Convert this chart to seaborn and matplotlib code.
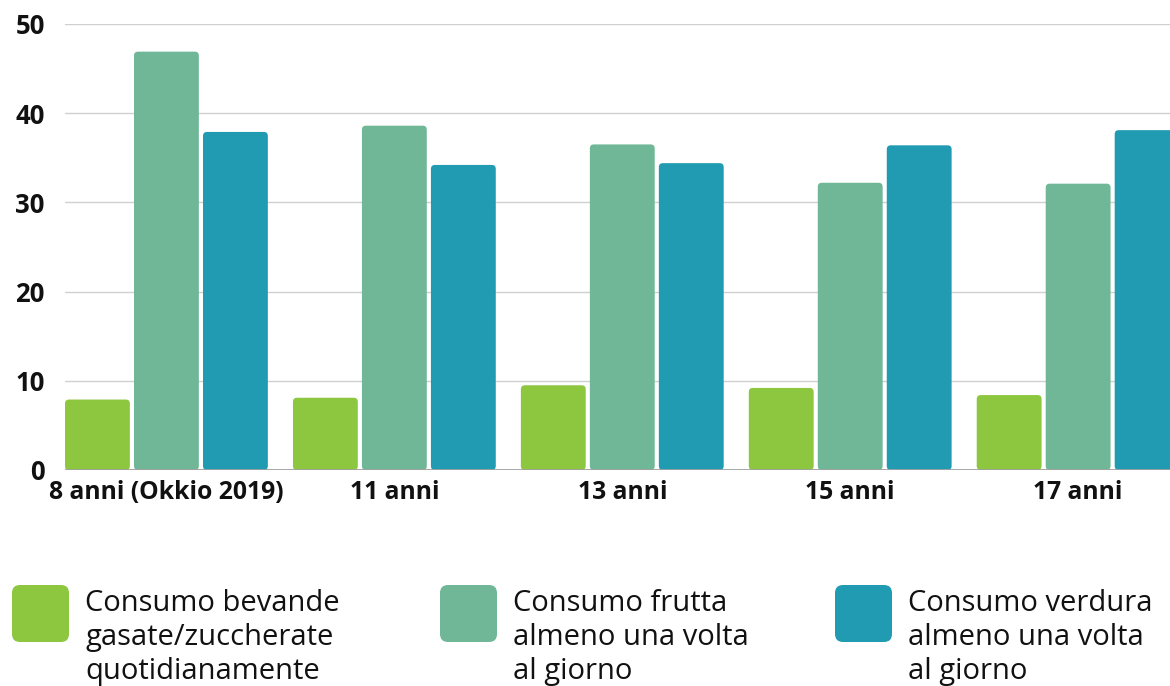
import matplotlib
matplotlib.use("Agg")
import matplotlib.pyplot as plt
import pandas as pd
import seaborn as sns
from matplotlib.patches import FancyBboxPatch

# dati (percentuali)
eta = ["8 anni (Okkio 2019)", "11 anni", "13 anni", "15 anni", "17 anni"]
serie = [
    "Consumo bevande\ngasate/zuccherate\nquotidianamente",
    "Consumo frutta\nalmeno una volta\nal giorno",
    "Consumo verdura\nalmeno una volta\nal giorno",
]
bevande = [7.9, 8.1, 9.5, 9.2, 8.4]
frutta = [46.9, 38.6, 36.5, 32.2, 32.1]
verdura = [37.9, 34.2, 34.4, 36.4, 38.1]
colori = ["#8DC63F", "#6FB797", "#209BB1"]
y_ticks = [0, 10, 20, 30, 40, 50]

df = pd.DataFrame({
    "eta": eta * 3,
    "serie": [serie[0]] * 5 + [serie[1]] * 5 + [serie[2]] * 5,
    "valore": bevande + frutta + verdura,
})

sns.set_theme(style="white")
plt.rcParams["font.family"] = ["Open Sans", "DejaVu Sans"]

W, H = 1170, 686
fig = plt.figure(figsize=(W / 100, H / 100), dpi=100)
ax = fig.add_axes([65 / W, 1 - 470 / H, 1 - 65 / W, (470 - 24) / H])

sns.barplot(data=df, x="eta", y="valore", hue="serie", hue_order=serie,
            palette=colori, width=0.908, gap=0.06, ax=ax, legend=False,
            saturation=1)

ax.set_xlim(-0.445, 4.403)
ax.set_ylim(0, 50)
ax.set_yticks(y_ticks)
ax.set_xlabel("")
ax.set_ylabel("")
for s in ax.spines.values():
    s.set_visible(False)
ax.yaxis.grid(True, color="#d0d0d0", linewidth=1)
ax.set_axisbelow(True)
ax.axhline(0, color="#a0a0a0", linewidth=1.3, zorder=3)
ax.tick_params(axis="y", length=0, pad=14.5, labelsize=18.5, colors="#111111")
ax.tick_params(axis="x", length=0, pad=7, labelsize=17.8, colors="#111111")
for lab in ax.get_xticklabels() + ax.get_yticklabels():
    lab.set_fontweight("bold")

# angoli arrotondati delle barre
p0 = ax.transData.transform((0, 0))
p1 = ax.transData.transform((1, 1))
px_x = p1[0] - p0[0]
px_y = p1[1] - p0[1]
for bar in list(ax.patches):
    x, w, h = bar.get_x(), bar.get_width(), bar.get_height()
    fb = FancyBboxPatch((x, 0), w, h,
                        boxstyle="round,pad=0,rounding_size=%f" % (4 / px_x),
                        mutation_aspect=px_x / px_y,
                        facecolor=bar.get_facecolor(), edgecolor="none", zorder=2)
    bar.remove()
    ax.add_patch(fb)

# legenda manuale in basso
leg_x = [12, 440, 835]
for xp, testo, col in zip(leg_x, serie, colori):
    fig.patches.append(FancyBboxPatch(
        (xp / W, 1 - 642 / H), 57 / W, 57 / H,
        boxstyle="round,pad=0,rounding_size=%f" % (8 / W),
        mutation_aspect=W / H, transform=fig.transFigure,
        facecolor=col, edgecolor="none"))
    fig.text((xp + 73) / W, 1 - 589 / H, testo, ha="left", va="top",
             fontsize=21, color="#111111", linespacing=1.23)

fig.savefig("out.png", dpi=100)
